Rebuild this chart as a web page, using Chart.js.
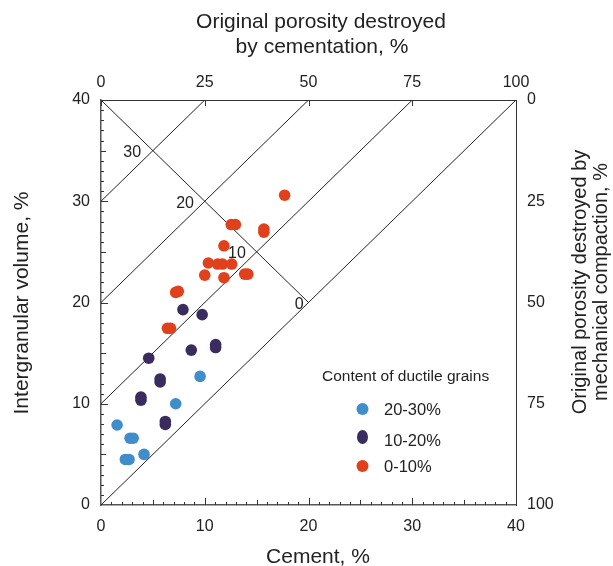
<!DOCTYPE html>
<html>
<head>
<meta charset="utf-8">
<script src="https://cdn.jsdelivr.net/npm/chart.js@4/dist/chart.umd.min.js"></script>
<style>
  html, body { margin: 0; padding: 0; background: #fff; }
  #wrap { width: 613px; height: 566px; position: relative; }
</style>
</head>
<body>
<div id="wrap"><canvas id="igvChart" width="613" height="566"></canvas></div>
<script>
// data (cement %, intergranular volume %)
const blueX = [9.55, 7.2, 1.55, 2.8, 3.1, 2.35, 2.7, 4.15];
const blueY = [12.7, 10.0, 7.9, 6.6, 6.6, 4.5, 4.5, 5.0];

const purpleX = [7.9, 9.75, 8.7, 11.05, 11.05, 4.6, 5.7, 5.7, 3.85, 3.85, 6.2, 6.2];
const purpleY = [19.3, 18.8, 15.3, 15.55, 15.85, 14.5, 12.15, 12.45, 10.35, 10.65, 7.95, 8.25];

const redX = [17.7, 12.55, 12.95, 15.7, 15.7, 11.85, 10.35, 11.25, 11.7, 12.6, 10.0, 11.85, 13.85, 14.15, 7.2, 7.45, 6.4, 6.7];
const redY = [30.6, 27.7, 27.7, 26.95, 27.25, 25.6, 23.9, 23.8, 23.8, 23.8, 22.7, 22.45, 22.8, 22.8, 21.0, 21.1, 17.45, 17.45];

const groupLabels = ["20-30%", "10-20%", "0-10%"];
const groupColors = ["#408dcc", "#3a2c5e", "#e0401b"];

// reference lines: IGV - cement = const, and IGV + cement = 40
const offsetLines = [30, 20, 10, 0];
const lossLineX = [0, 20];
const lossLineY = [40, 20];
const lossLabels = ["30", "20", "10", "0"];
const lossLabelX = [3.0, 8.1, 13.1, 19.1];
const lossLabelY = [34.8, 29.8, 24.8, 19.8];

const topTicks = [0, 25, 50, 75, 100];

const toPts = (xs, ys) => xs.map((x, i) => ({ x, y: ys[i] }));

const refSets = offsetLines.map(k => ({
    type: "scatter", showLine: true, label: "ref",
    data: [{ x: 0, y: k }, { x: 40 - k, y: 40 }],
    borderColor: "#222", borderWidth: 1, pointRadius: 0, order: 5
}));
refSets.push({
    type: "scatter", showLine: true, label: "ref",
    data: toPts(lossLineX, lossLineY),
    borderColor: "#222", borderWidth: 1, pointRadius: 0, order: 5
});

const pointSets = [[blueX, blueY], [purpleX, purpleY], [redX, redY]].map((s, i) => ({
    label: groupLabels[i],
    data: toPts(s[0], s[1]),
    backgroundColor: groupColors[i],
    borderColor: groupColors[i],
    borderWidth: 0,
    pointRadius: 5.8,
    pointHoverRadius: 5.8,
    order: 1
}));

const FONT = "'Liberation Sans', Arial, sans-serif";

const decorPlugin = {
    id: "decor",
    afterDraw(chart) {
        const ctx = chart.ctx;
        const xs = chart.scales.x, ys = chart.scales.y, xt = chart.scales.x2;
        const area = chart.chartArea;
        ctx.save();
        ctx.strokeStyle = "#333";
        ctx.lineWidth = 1;
        // inward ticks on bottom and left
        for (let v = 1; v < 40; v++) {
            const len = v % 10 === 0 ? 7 : (v % 5 === 0 ? 5 : 3);
            const px = Math.round(xs.getPixelForValue(v)) + 0.5;
            ctx.beginPath(); ctx.moveTo(px, area.bottom); ctx.lineTo(px, area.bottom - len); ctx.stroke();
            const py = Math.round(ys.getPixelForValue(v)) + 0.5;
            ctx.beginPath(); ctx.moveTo(area.left, py); ctx.lineTo(area.left + len, py); ctx.stroke();
        }
        // top ticks
        topTicks.forEach(v => {
            const px = Math.round(xt.getPixelForValue(v)) + 0.5;
            ctx.beginPath(); ctx.moveTo(px, area.top); ctx.lineTo(px, area.top + 6); ctx.stroke();
        });

        // labels on the porosity line
        ctx.fillStyle = "#222";
        ctx.font = "16px " + FONT;
        ctx.textAlign = "center";
        ctx.textBaseline = "middle";
        lossLabels.forEach((t, i) => {
            ctx.fillText(t, xs.getPixelForValue(lossLabelX[i]), ys.getPixelForValue(lossLabelY[i]));
        });

        // legend
        ctx.textAlign = "left";
        ctx.font = "15.5px " + FONT;
        ctx.fillText("Content of ductile grains", 322, 377);
        const legY = [409, 437, 466];
        const legTextY = [410, 441, 467];
        ctx.font = "16.5px " + FONT;
        groupLabels.forEach((t, i) => {
            ctx.fillStyle = groupColors[i];
            ctx.beginPath();
            if (i === 1) ctx.ellipse(362.5, legY[i], 5.5, 7, 0, 0, Math.PI * 2);
            else ctx.arc(362.5, legY[i], 6, 0, Math.PI * 2);
            ctx.fill();
            ctx.fillStyle = "#222";
            ctx.fillText(t, 384, legTextY[i]);
        });

        // axis titles
        ctx.font = "21px " + FONT;
        ctx.textAlign = "center";
        ctx.fillText("Original porosity destroyed", 321, 22);
        ctx.fillText("by cementation, %", 322, 47);
        ctx.fillText("Cement, %", 318, 557);
        ctx.save();
        ctx.translate(22, 303);
        ctx.rotate(-Math.PI / 2);
        ctx.fillText("Intergranular volume, %", 0, 0);
        ctx.restore();
        ctx.save();
        ctx.translate(580, 282);
        ctx.rotate(-Math.PI / 2);
        ctx.font = "20px " + FONT;
        ctx.fillText("Original porosity destroyed by", 0, 0);
        ctx.fillText("mechanical compaction, %", 0, 21);
        ctx.restore();
        ctx.restore();
    }
};

const tickFont = { family: FONT, size: 16 };

new Chart(document.getElementById("igvChart"), {
    type: "scatter",
    data: { datasets: [...pointSets, ...refSets] },
    plugins: [decorPlugin],
    options: {
        responsive: false,
        animation: false,
        layout: { padding: 0 },
        plugins: { legend: { display: false }, tooltip: { enabled: false } },
        scales: {
            x: {
                type: "linear", position: "bottom", min: 0, max: 40,
                ticks: { stepSize: 10, color: "#222", font: tickFont, padding: 12 },
                grid: { display: false, drawTicks: false },
                border: { display: true, color: "#555", width: 1.5 },
                afterFit(s) { s.height = 61; }
            },
            y: {
                type: "linear", position: "left", min: 0, max: 40,
                ticks: { stepSize: 10, color: "#222", font: tickFont, padding: 11 },
                grid: { display: false, drawTicks: false },
                border: { display: true, color: "#555", width: 1.5 },
                afterFit(s) { s.width = 101; }
            },
            x2: {
                type: "linear", position: "top", min: 0, max: 100,
                ticks: { stepSize: 25, color: "#222", font: tickFont, padding: 8 },
                grid: { display: false, drawTicks: false },
                border: { display: true, color: "#333", width: 1 },
                afterFit(s) { s.height = 100; }
            },
            y2: {
                type: "linear", position: "right", min: 0, max: 100, reverse: true,
                ticks: { stepSize: 25, color: "#222", font: tickFont, padding: 11 },
                grid: { display: false, drawTicks: false },
                border: { display: true, color: "#333", width: 1 },
                afterFit(s) { s.width = 97; }
            }
        }
    }
});
</script>
</body>
</html>
